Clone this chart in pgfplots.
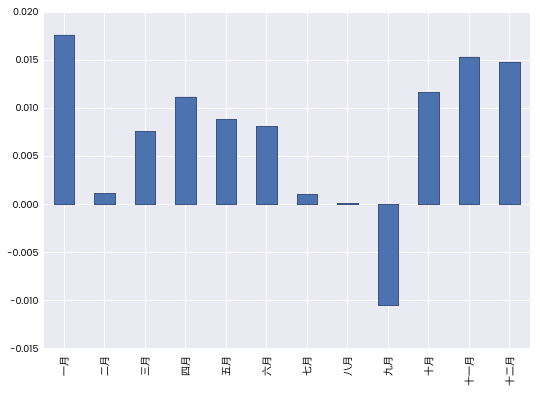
\documentclass[border=0pt]{standalone}
\usepackage{pgfplots}
\pgfplotsset{compat=1.18}
\usepackage{fontspec}
\setmainfont{Poppins}
\newfontfamily\cjk{Noto Sans CJK SC}
\definecolor{sbbg}{HTML}{EAEAF2}
\definecolor{sbblue}{HTML}{4C72B0}
\definecolor{sbedge}{HTML}{3A5680}
\begin{document}
\begin{tikzpicture}
\begin{axis}[
  name=ax,
  scale only axis,
  width=486pt, height=337pt,
  xmin=-0.5, xmax=11.5,
  ymin=-0.015, ymax=0.020,
  ytick={-0.015,-0.010,-0.005,0,0.005,0.010,0.015,0.020},
  xtick={0,...,11},
  xticklabels={一月,二月,三月,四月,五月,六月,七月,八月,九月,十月,十一月,十二月},
  x tick label style={font=\cjk\fontsize{10}{11}\selectfont, rotate=90, anchor=east, xshift=-4pt},
  y tick label style={font=\fontsize{9.5}{11}\selectfont, xshift=-2pt},
  yticklabel style={/pgf/number format/.cd, fixed, fixed zerofill, precision=3, assume math mode=true},
  scaled y ticks=false,
  axis line style={draw=none},
  major tick length=0pt,
  grid=major,
  major grid style={white, line width=1.1pt},
  axis background/.style={fill=sbbg},
  ybar, bar width=0.5, bar shift=0pt,
  xtick pos=bottom, ytick pos=left,
]
\addplot[fill=sbblue, draw=sbedge, line width=0.6pt] coordinates {
(0,0.01762) (1,0.00114) (2,0.00756) (3,0.01119) (4,0.00881) (5,0.00808)
(6,0.00104) (7,0.00010) (8,-0.01047) (9,0.01161) (10,0.01534) (11,0.01482)
};
\end{axis}
\pgfresetboundingbox
\path (ax.south west) ++(-44pt,-45pt) coordinate (bl);
\path (ax.north east) ++(10pt,12pt) coordinate (tr);
\path (bl) rectangle (tr);
\end{tikzpicture}
\end{document}
